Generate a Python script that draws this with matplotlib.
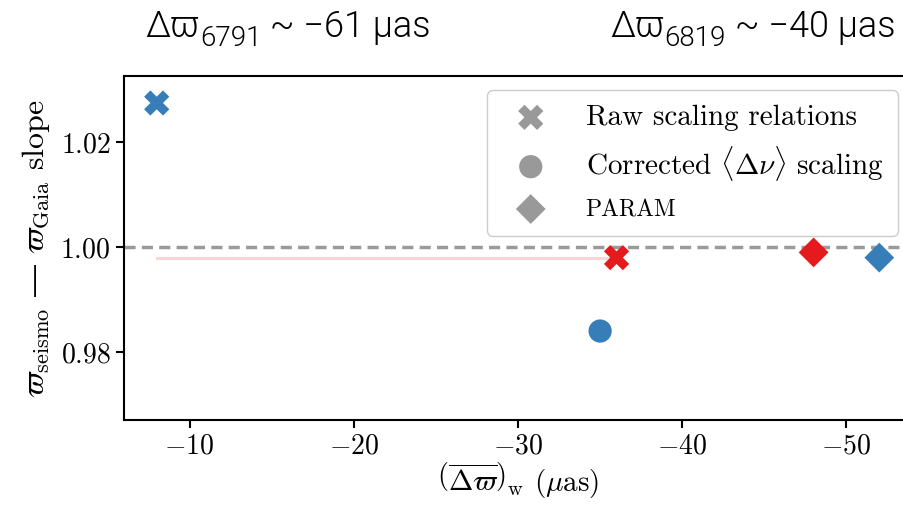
import matplotlib as mpl
mpl.use('Agg')
from matplotlib import pyplot as plt

mpl.rcParams['font.family'] = 'serif'
mpl.rcParams['font.serif'] = ['cmr10']
mpl.rcParams['mathtext.fontset'] = 'cm'
mpl.rcParams['axes.formatter.use_mathtext'] = True
mpl.rcParams['axes.unicode_minus'] = True

# slope of seismic vs Gaia parallax for each method, at the weighted mean offset
raw_offset = [-8, -36]
raw_slope = [1.0275, 0.998]
corr_offset = [-35]
corr_slope = [0.984]
param_offset = [-48, -52]
param_slope = [0.999, 0.998]
sample_colors = ['#377eb8', '#e41a1c']
param_colors = ['#e41a1c', '#377eb8']

cluster_ids = ['6791', '6819']
cluster_offsets = ['−61', '−40']

fig = plt.figure(figsize=(9.04, 5.05), dpi=100)
ax = fig.add_axes([0.137, 0.168, 0.872, 0.681])

ax.axhline(1.0, color='#9a9a9a', lw=2.5, ls=(0, (3.2, 1.8)), zorder=1)
ax.plot(raw_offset, [raw_slope[1], raw_slope[1]], color='#e41a1c', alpha=0.18, lw=2.2, zorder=1)

ax.scatter(raw_offset, raw_slope, marker='X', s=330, c=sample_colors, edgecolors='none', zorder=3)
ax.scatter(corr_offset, corr_slope, marker='o', s=280, c=sample_colors[:1], edgecolors='none', zorder=3)
ax.scatter(param_offset, param_slope, marker='D', s=230, c=param_colors, edgecolors='none', zorder=3)

ax.set_xlim(-6, -54)
ax.set_ylim(0.967, 1.0326)
ax.set_xticks([-10, -20, -30, -40, -50])
ax.set_yticks([0.98, 1.00, 1.02])
ax.yaxis.set_major_formatter(mpl.ticker.FuncFormatter(lambda v, p: '$%.2f$' % v))
ax.tick_params(labelsize=20, width=1.5, length=6)
for s in ax.spines.values():
    s.set_linewidth(1.5)

ax.set_xlabel(r'$\left(\overline{\Delta\varpi}\right)_{\rm w}$ ($\mu$as)', fontsize=21, labelpad=0)
ax.set_ylabel('$\\varpi_{\\rm seismo}$ $\\mathrm{\u2014}$ $\\varpi_{\\rm Gaia}$ slope',
              fontsize=23, labelpad=6)

# legend with grey proxy markers
h1 = ax.scatter([], [], marker='X', s=330, c='#999999', edgecolors='none')
h2 = ax.scatter([], [], marker='o', s=280, c='#999999', edgecolors='none')
h3 = ax.scatter([], [], marker='D', s=230, c='#999999', edgecolors='none')
leg = ax.legend([h1, h2, h3],
                ['Raw scaling relations', r'Corrected $\langle\Delta\nu\rangle$ scaling', 'PARAM'],
                loc='upper right', bbox_to_anchor=(898 / 904, 1 - 90 / 505),
                bbox_transform=fig.transFigure, borderaxespad=0, fontsize=21,
                framealpha=1, edgecolor='#cccccc', fancybox=True,
                handlelength=2.0, handletextpad=0.88, labelspacing=0.45, borderpad=0.5)
leg.get_texts()[2].set_fontsize(17)

# header: parallax offset per cluster, subscript drawn as a separate smaller text
fig.canvas.draw()
renderer = fig.canvas.get_renderer()
W, H = fig.bbox.width, fig.bbox.height
tfont = dict(family=['Roboto', 'DejaVu Sans'], fontweight=300, color='black')
for x0, cid, off in zip([145, 610], cluster_ids, cluster_offsets):
    base = H - 37
    t1 = fig.text(x0 / W, base / H, 'Δϖ', fontsize=26, va='baseline', **tfont)
    x = t1.get_window_extent(renderer).x1 + 1
    t2 = fig.text(x / W, (base - 9) / H, cid, fontsize=20, va='baseline', **tfont)
    x = t2.get_window_extent(renderer).x1
    fig.text(x / W, base / H, ' ~ ' + off + ' µas', fontsize=26, va='baseline', **tfont)

fig.savefig('out.png', dpi=100)
